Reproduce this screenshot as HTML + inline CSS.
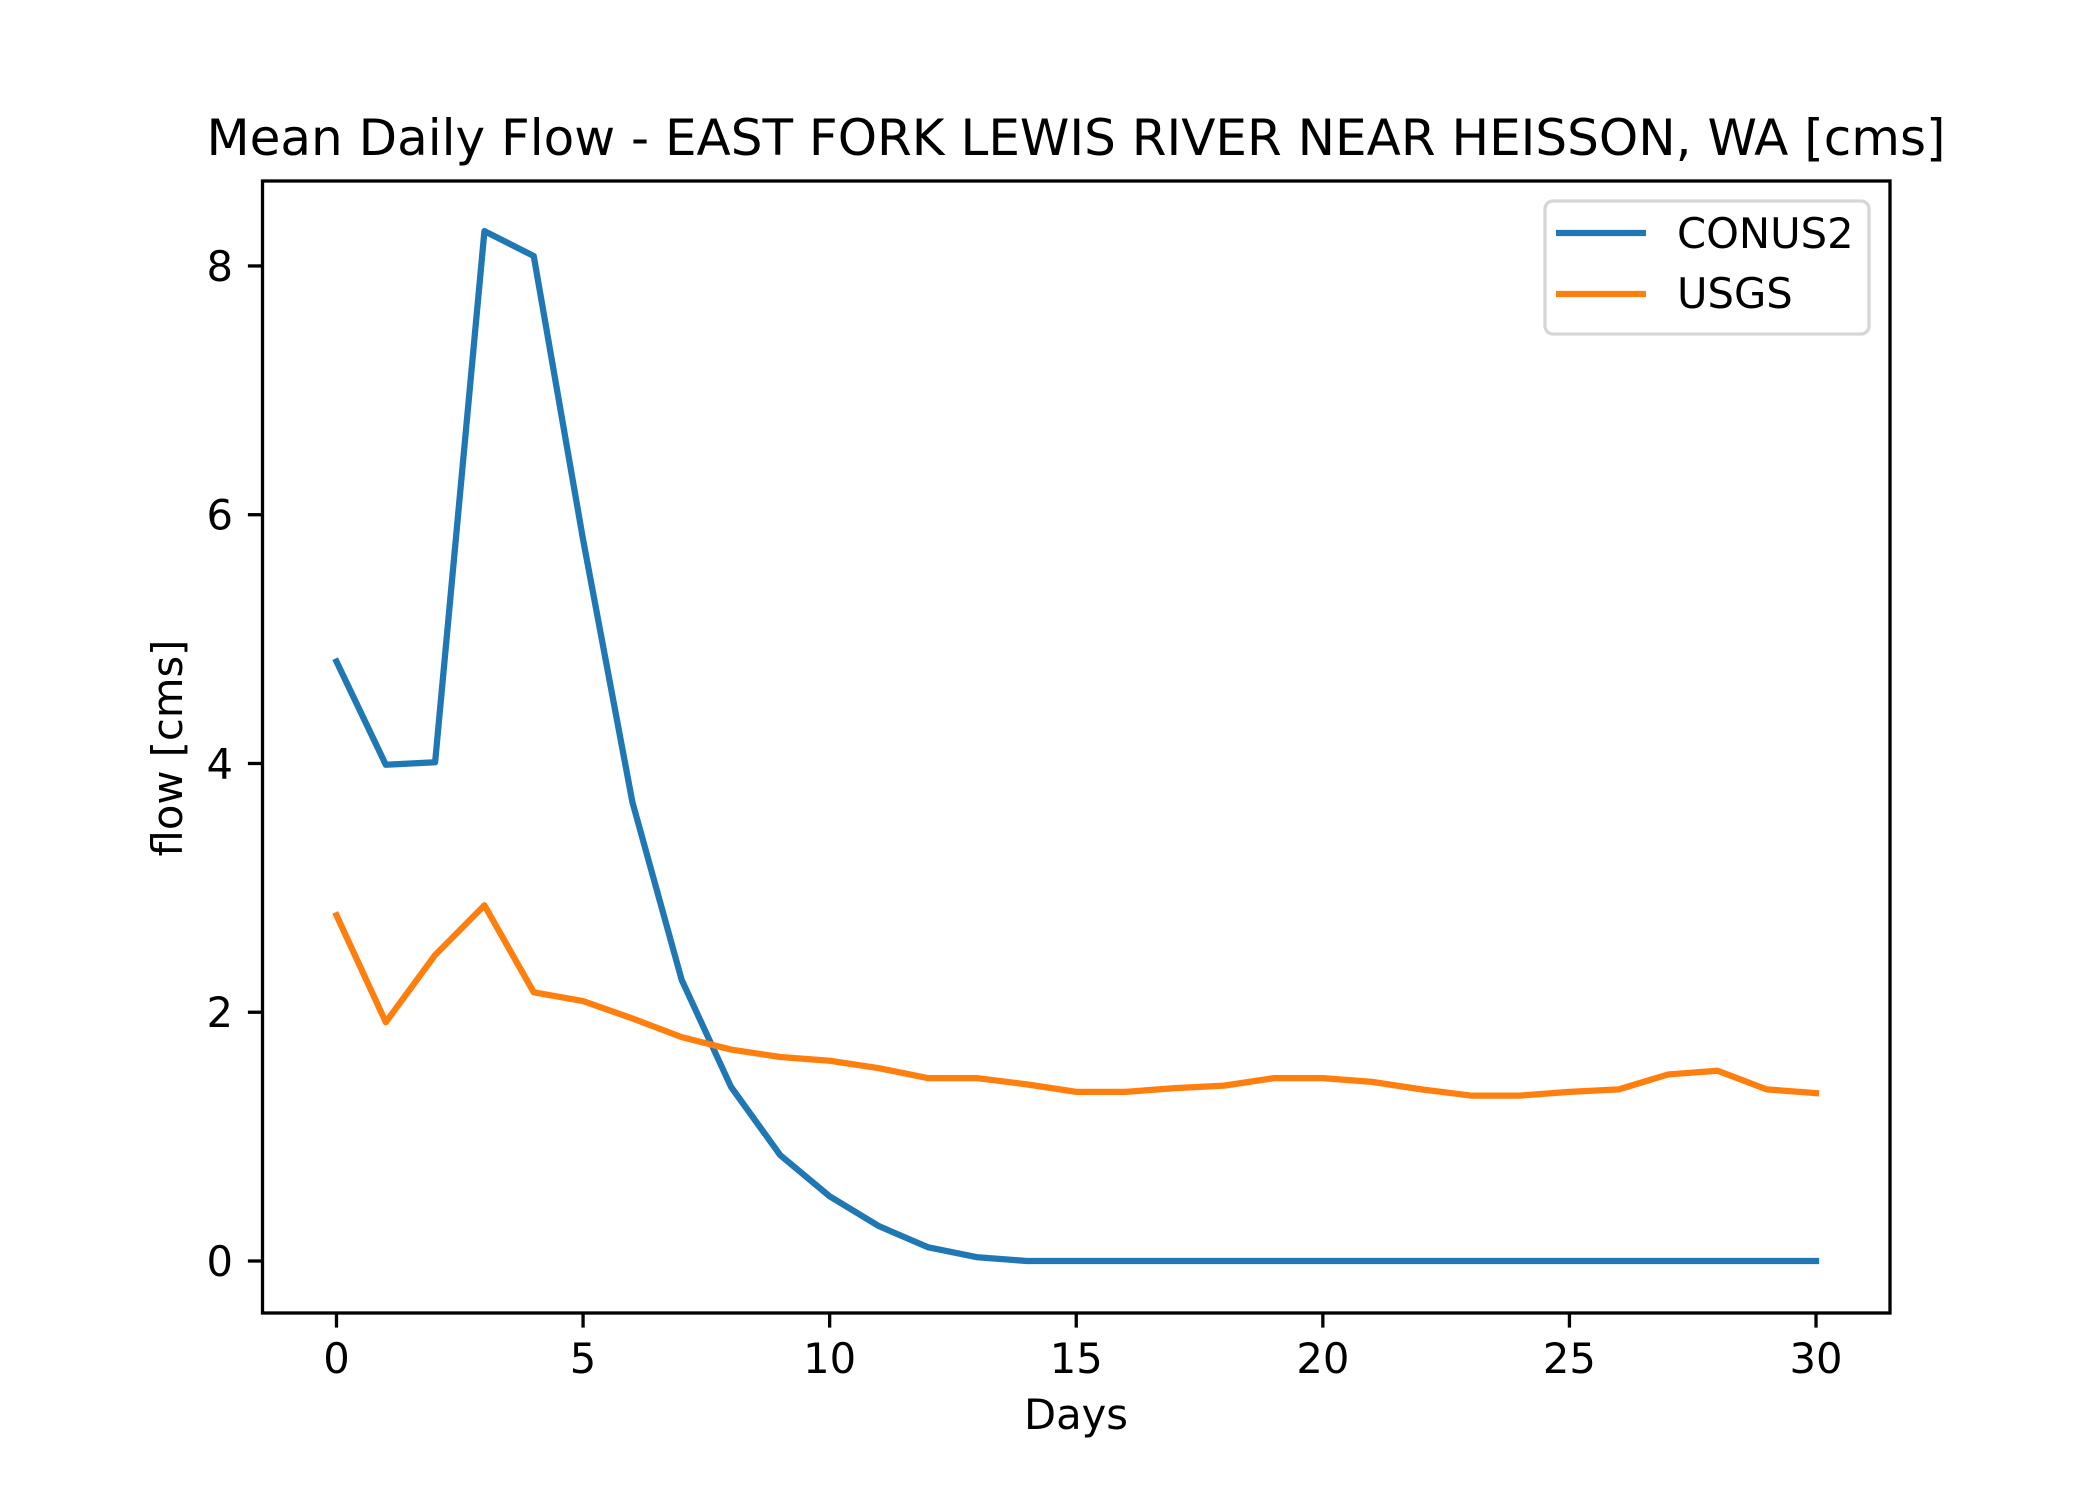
<!DOCTYPE html>
<html><head><meta charset="utf-8"><style>
html,body{margin:0;padding:0;background:#fff;overflow:hidden;}
svg{display:block;font-family:"DejaVu Sans","Liberation Sans",sans-serif;}
</style></head><body>
<svg width="2100" height="1500" viewBox="0 0 2100 1500">
<rect width="2100" height="1500" fill="#fff"/>
<g id="plot"></g>
<script>
const days = Array.from({length:31},(_,i)=>i);
const conus2 = [4.82,3.99,4.01,8.28,8.08,5.8,3.69,2.26,1.40,0.85,0.52,0.28,0.11,0.03,0,0,0,0,0,0,0,0,0,0,0,0,0,0,0,0,0];
const usgs = [2.78,1.92,2.46,2.86,2.16,2.09,1.95,1.80,1.70,1.64,1.61,1.55,1.47,1.47,1.42,1.36,1.36,1.39,1.41,1.47,1.47,1.44,1.38,1.33,1.33,1.36,1.38,1.50,1.53,1.38,1.35];
const xTicks = [0,5,10,15,20,25,30];
const yTicks = [0,2,4,6,8];

const L=262.5,R=1890,T=181,B=1313;
const xmin=-1.5,xmax=31.5,ymin=-0.418,ymax=8.683;
const sx=v=>L+(v-xmin)/(xmax-xmin)*(R-L);
const sy=v=>B-(v-ymin)/(ymax-ymin)*(B-T);
const NS="http://www.w3.org/2000/svg";
const g=document.getElementById('plot');
function mk(tag,attrs,parent){const e=document.createElementNS(NS,tag);for(const k in attrs)e.setAttribute(k,attrs[k]);(parent||g).appendChild(e);return e;}

function series(vals,color,name){
  const p=mk('polyline',{points:vals.map((v,i)=>sx(days[i])+','+sy(v)).join(' '),fill:'none',stroke:color,'stroke-width':6.25,'stroke-linejoin':'round','stroke-linecap':'square'});
  
  
}
series(conus2,'#1f77b4','conus2-line');
series(usgs,'#ff7f0e','usgs-line');

const frame=mk('rect',{x:L,y:T,width:R-L,height:B-T,fill:'none',stroke:'#000','stroke-width':3.3});



xTicks.forEach(t=>{
  const x=sx(t);
  const tk=mk('line',{x1:x,y1:B,x2:x,y2:B+14.6,stroke:'#000','stroke-width':3.3});
  
  
  const tx=mk('text',{x:x,y:B+60,'font-size':41.7,'text-anchor':'middle'});
  tx.textContent=t;
  
  
});
yTicks.forEach(t=>{
  const y=sy(t);
  const tk=mk('line',{x1:L-14.6,y1:y,x2:L,y2:y,stroke:'#000','stroke-width':3.3});
  
  
  const tx=mk('text',{x:233,y:y+15,'font-size':41.7,'text-anchor':'end'});
  tx.textContent=t;
  
  
});
</script>
<text x="1076" y="155" font-size="50" text-anchor="middle">Mean Daily Flow - EAST FORK LEWIS RIVER NEAR HEISSON, WA [cms]</text>
<text x="1076" y="1429" font-size="41.7" text-anchor="middle">Days</text>
<text transform="translate(182,748) rotate(-90)" font-size="41.7" text-anchor="middle">flow [cms]</text>
<g>
<rect x="1545" y="201" width="324" height="133" rx="8" fill="#fff" fill-opacity="0.8" stroke="#d6d6d6" stroke-width="3.3"/>
<line x1="1556" y1="233" x2="1646" y2="233" stroke="#1f77b4" stroke-width="6.25"/>
<text x="1677" y="248" font-size="41.7">CONUS2</text>
<line x1="1556" y1="294" x2="1646" y2="294" stroke="#ff7f0e" stroke-width="6.25"/>
<text x="1677" y="308" font-size="41.7">USGS</text>
</g>
</svg>
</body></html>
